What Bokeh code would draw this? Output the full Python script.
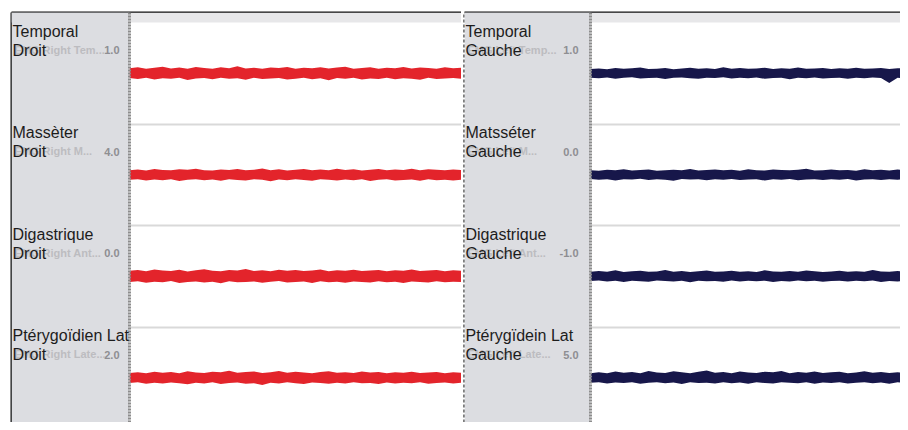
from bokeh.plotting import figure
from bokeh.layouts import row
from bokeh.models import Range1d, FixedTicker, Label, LinearAxis, BoxAnnotation, Span
from bokeh.embed import file_html
from bokeh.resources import INLINE

# ---------------- data ----------------
time_s = [round(0.3 * i, 1) for i in range(41)]  # sample times (s)

left_names = ["Temporal\nDroit", "Massèter\nDroit", "Digastrique\nDroit", "Ptérygoïdien Lat\nDroit"]
right_names = ["Temporal\nGauche", "Matsséter\nGauche", "Digastrique\nGauche", "Ptérygïdein Lat\nGauche"]
left_channels = ["EMG Right Tem...", "EMG Right M...", "EMG Right Ant...", "EMG Right Late..."]
right_channels = ["EMG Left Temp...", "EMG Left M...", "EMG Left Ant...", "EMG Left Late..."]
left_ticks = ["1.0", "4.0", "0.0", "2.0"]
right_ticks = ["1.0", "0.0", "-1.0", "5.0"]

# envelope of each EMG trace (upper / lower excursion around the channel baseline, mV)
l1_top = [0.22,0.26,0.20,0.24,0.28,0.21,0.25,0.19,0.27,0.23,
          0.20,0.26,0.22,0.30,0.21,0.24,0.19,0.25,0.23,0.27,
          0.20,0.24,0.22,0.26,0.21,0.25,0.28,0.20,0.23,0.26,
          0.19,0.24,0.22,0.27,0.21,0.25,0.23,0.20,0.26,0.22,
          0.24]
l1_bot = [-0.21,-0.25,-0.19,-0.27,-0.22,-0.24,-0.20,-0.29,-0.23,-0.21,
          -0.26,-0.19,-0.24,-0.22,-0.28,-0.20,-0.25,-0.23,-0.21,-0.27,
          -0.24,-0.19,-0.26,-0.22,-0.30,-0.21,-0.24,-0.20,-0.27,-0.23,
          -0.25,-0.19,-0.26,-0.22,-0.24,-0.28,-0.20,-0.25,-0.23,-0.21,
          -0.24]
l2_top = [0.20,0.23,0.18,0.25,0.21,0.19,0.24,0.22,0.26,0.20,
          0.18,0.23,0.21,0.25,0.19,0.22,0.27,0.20,0.24,0.18,
          0.22,0.25,0.20,0.23,0.19,0.26,0.21,0.24,0.18,0.22,
          0.25,0.20,0.23,0.21,0.26,0.19,0.24,0.22,0.20,0.23,
          0.21]
l2_bot = [-0.22,-0.19,-0.25,-0.21,-0.24,-0.20,-0.27,-0.22,-0.19,-0.24,
          -0.21,-0.26,-0.20,-0.23,-0.25,-0.19,-0.22,-0.28,-0.21,-0.24,
          -0.20,-0.23,-0.26,-0.19,-0.22,-0.25,-0.21,-0.24,-0.20,-0.27,
          -0.22,-0.19,-0.25,-0.23,-0.21,-0.26,-0.20,-0.24,-0.22,-0.25,
          -0.21]
l3_top = [0.24,0.27,0.22,0.29,0.25,0.23,0.28,0.21,0.26,0.30,
          0.24,0.22,0.27,0.25,0.31,0.23,0.26,0.22,0.28,0.24,
          0.27,0.23,0.25,0.29,0.22,0.26,0.24,0.28,0.23,0.25,
          0.27,0.22,0.26,0.24,0.29,0.23,0.25,0.27,0.22,0.26,
          0.24]
l3_bot = [-0.25,-0.22,-0.28,-0.24,-0.26,-0.21,-0.29,-0.25,-0.23,-0.27,
          -0.24,-0.30,-0.22,-0.26,-0.25,-0.23,-0.28,-0.24,-0.21,-0.27,
          -0.25,-0.23,-0.29,-0.22,-0.26,-0.24,-0.28,-0.23,-0.25,-0.27,
          -0.22,-0.26,-0.24,-0.29,-0.23,-0.25,-0.27,-0.22,-0.26,-0.24,
          -0.25]
l4_top = [0.21,0.24,0.19,0.26,0.22,0.25,0.20,0.28,0.23,0.21,
          0.26,0.24,0.30,0.22,0.25,0.27,0.21,0.24,0.29,0.22,
          0.26,0.23,0.20,0.25,0.28,0.22,0.24,0.21,0.27,0.23,
          0.25,0.20,0.24,0.22,0.26,0.21,0.23,0.25,0.20,0.24,
          0.22]
l4_bot = [-0.23,-0.20,-0.26,-0.22,-0.25,-0.21,-0.24,-0.28,-0.22,-0.25,
          -0.20,-0.27,-0.23,-0.21,-0.26,-0.24,-0.31,-0.22,-0.25,-0.20,
          -0.24,-0.27,-0.21,-0.23,-0.26,-0.22,-0.25,-0.20,-0.24,-0.23,
          -0.27,-0.21,-0.25,-0.22,-0.24,-0.20,-0.26,-0.23,-0.21,-0.25,
          -0.22]
r1_top = [0.18,0.21,0.17,0.23,0.19,0.22,0.25,0.18,0.20,0.23,
          0.17,0.21,0.24,0.19,0.22,0.18,0.26,0.20,0.23,0.19,
          0.21,0.24,0.18,0.22,0.20,0.25,0.19,0.21,0.23,0.18,
          0.22,0.20,0.24,0.19,0.21,0.23,0.18,0.22,0.20,0.21,
          0.19]
r1_bot = [-0.19,-0.22,-0.18,-0.24,-0.20,-0.17,-0.23,-0.21,-0.19,-0.25,
          -0.20,-0.18,-0.22,-0.24,-0.19,-0.21,-0.17,-0.23,-0.20,-0.22,
          -0.18,-0.24,-0.21,-0.19,-0.26,-0.20,-0.22,-0.18,-0.23,-0.21,
          -0.19,-0.24,-0.20,-0.22,-0.18,-0.21,-0.42,-0.20,-0.23,-0.19,
          -0.21]
r2_top = [0.20,0.17,0.22,0.19,0.24,0.18,0.21,0.23,0.17,0.20,
          0.22,0.19,0.25,0.18,0.21,0.23,0.19,0.22,0.17,0.24,
          0.20,0.18,0.23,0.21,0.19,0.22,0.26,0.18,0.20,0.23,
          0.19,0.21,0.17,0.24,0.20,0.22,0.18,0.23,0.19,0.21,
          0.20]
r2_bot = [-0.18,-0.22,-0.20,-0.25,-0.19,-0.21,-0.17,-0.23,-0.20,-0.22,
          -0.26,-0.18,-0.21,-0.19,-0.24,-0.20,-0.22,-0.18,-0.23,-0.21,
          -0.19,-0.25,-0.20,-0.22,-0.18,-0.24,-0.21,-0.19,-0.23,-0.20,
          -0.22,-0.18,-0.25,-0.21,-0.19,-0.23,-0.20,-0.22,-0.18,-0.21,
          -0.20]
r3_top = [0.19,0.23,0.20,0.26,0.18,0.22,0.24,0.19,0.21,0.27,
          0.20,0.23,0.18,0.22,0.25,0.19,0.21,0.24,0.20,0.22,
          0.18,0.26,0.21,0.19,0.23,0.20,0.25,0.22,0.18,0.21,
          0.24,0.19,0.22,0.20,0.27,0.21,0.19,0.23,0.20,0.22,
          0.21]
r3_bot = [-0.21,-0.18,-0.23,-0.20,-0.25,-0.19,-0.22,-0.24,-0.18,-0.21,
          -0.23,-0.20,-0.26,-0.19,-0.22,-0.21,-0.24,-0.18,-0.23,-0.20,
          -0.22,-0.19,-0.25,-0.21,-0.23,-0.18,-0.22,-0.20,-0.24,-0.21,
          -0.19,-0.23,-0.20,-0.22,-0.18,-0.25,-0.21,-0.23,-0.19,-0.22,
          -0.20]
r4_top = [0.20,0.24,0.19,0.27,0.22,0.25,0.20,0.29,0.23,0.21,
          0.28,0.24,0.20,0.26,0.31,0.22,0.25,0.20,0.27,0.23,
          0.21,0.26,0.24,0.29,0.20,0.25,0.22,0.27,0.21,0.24,
          0.26,0.20,0.23,0.28,0.22,0.25,0.21,0.24,0.20,0.23,
          0.22]
r4_bot = [-0.22,-0.19,-0.25,-0.21,-0.23,-0.20,-0.26,-0.22,-0.19,-0.24,
          -0.21,-0.27,-0.20,-0.23,-0.22,-0.25,-0.19,-0.24,-0.21,-0.26,
          -0.20,-0.23,-0.25,-0.19,-0.22,-0.24,-0.20,-0.26,-0.21,-0.23,
          -0.19,-0.25,-0.22,-0.20,-0.24,-0.21,-0.26,-0.20,-0.23,-0.22,
          -0.21]

left_env = [(l1_top, l1_bot), (l2_top, l2_bot), (l3_top, l3_bot), (l4_top, l4_bot)]
right_env = [(r1_top, r1_bot), (r2_top, r2_bot), (r3_top, r3_bot), (r4_top, r4_bot)]

# ---------------- layout / style ----------------
PANEL = "#dcdde1"
STRIP = "#e7e7e9"
RED = "#e3242b"
NAVY = "#17174a"
FONT = "Liberation Sans"

PITCH = 4.4                 # mV per channel row
ROW_PX = 101.5              # pixel height of a channel row
PX_PER_MV = ROW_PX / PITCH
PX_PER_S = 332 / 12.0
STRIP_PX = 10
FRAME_PX = 410
Y_TOP = PITCH / 2 + STRIP_PX / PX_PER_MV
Y_BOT = PITCH / 2 - (FRAME_PX - STRIP_PX) / PX_PER_MV


def make_column(names, channels, ticks, envs, color, width, border_left, panel_px, plot_px,
                border_fill, tick_dx, divider):
    x_start = -panel_px / PX_PER_S
    x_end = plot_px / PX_PER_S
    p = figure(width=width, height=422, output_backend="svg", toolbar_location=None,
               x_range=Range1d(x_start, x_end), y_range=Range1d(Y_BOT, Y_TOP),
               min_border_left=border_left, min_border_right=0, min_border_top=12,
               min_border_bottom=0, x_axis_location=None)
    p.border_fill_color = border_fill
    p.background_fill_color = "white"
    p.outline_line_color = None
    p.xgrid.visible = False

    row_tops = [PITCH / 2 - k * PITCH for k in range(4)]
    centers = [-k * PITCH for k in range(4)]

    # row separators
    p.ygrid.ticker = FixedTicker(ticks=row_tops[1:])
    p.ygrid.grid_line_color = "#d9d9d9"
    p.ygrid.grid_line_width = 2

    # left edge: black frame line or dashed divider
    ya = p.yaxis[0]
    ya.ticker = FixedTicker(ticks=[])
    ya.major_tick_out = 0
    ya.major_tick_in = 0
    ya.major_label_standoff = 0
    ya.minor_tick_line_color = None
    if divider:
        ya.axis_line_color = "#7d7d7d"
        ya.axis_line_width = 3
        ya.axis_line_dash = "3 2"
    else:
        ya.axis_line_color = "#111111"
        ya.axis_line_width = 2

    # top black frame line
    top_axis = LinearAxis(ticker=FixedTicker(ticks=[]), axis_line_color="#111111", axis_line_width=2,
                          major_tick_out=0, major_tick_in=0, major_label_standoff=0,
                          minor_tick_line_color=None)
    p.add_layout(top_axis, "above")

    for k in range(4):
        top, bot = envs[k]
        p.varea(x=time_s, y1=[centers[k] + v for v in bot], y2=[centers[k] + v for v in top],
                fill_color=color, fill_alpha=1.0)

    p.add_layout(BoxAnnotation(bottom=PITCH / 2, fill_color=STRIP, fill_alpha=1.0, line_color=None))
    p.add_layout(BoxAnnotation(right=0, fill_color=PANEL, fill_alpha=1.0, line_color=None))
    p.add_layout(Span(location=0, dimension="height", line_color="#8c8c8c", line_width=3,
                      line_dash="2 1"))

    for k in range(4):
        p.add_layout(Label(x=0, y=centers[k] + 1.0, x_offset=tick_dx, text=ticks[k],
                           text_align="right", text_baseline="middle", text_font_size="11px",
                           text_font_style="bold", text_color="#8e8e92", text_font=FONT))
        p.add_layout(Label(x=x_start, y=row_tops[k], x_offset=3, y_offset=-21, text=channels[k],
                           text_baseline="top", text_font_size="11px", text_font_style="bold",
                           text_color="#bcbcc0", text_font=FONT))
        p.add_layout(Label(x=x_start, y=row_tops[k], x_offset=1, y_offset=0, text=names[k],
                           text_baseline="top", text_font_size="16px", text_line_height=1.12,
                           text_color="#1c1c1c", text_font=FONT))
    return p


left = make_column(left_names, left_channels, left_ticks, left_env, RED,
                   461, 11, 118, 332, "white", -10, False)
right = make_column(right_names, right_channels, right_ticks, right_env, NAVY,
                    439, 3, 126, 310, "white", -12, True)

layout = row(left, right, spacing=0)

open("out.html", "w").write(file_html(layout, INLINE))
